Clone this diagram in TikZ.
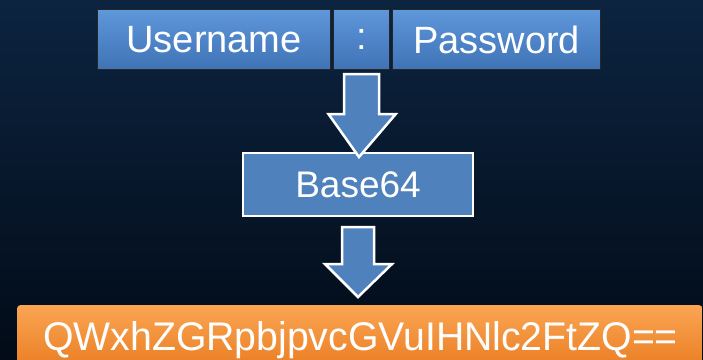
\documentclass[tikz,border=0pt]{standalone}
\usepackage{fontspec}
\setmainfont{Liberation Sans}
\usetikzlibrary{calc}
\definecolor{bgtop}{HTML}{0C2440}
\definecolor{bgbot}{HTML}{020B17}
\definecolor{boxtop}{HTML}{5E97DA}
\definecolor{boxbot}{HTML}{3F73B6}
\definecolor{flatblue}{HTML}{4F81BD}
\definecolor{ortop}{HTML}{FBA553}
\definecolor{orbot}{HTML}{E97D22}
\tikzset{
  keybox/.style={draw=black!85, line width=1.2pt, top color=boxtop, bottom color=boxbot,
    text=white, font=\fontsize{38}{38}\selectfont, inner sep=0pt, anchor=north west},
  codebox/.style={draw=white, line width=2pt, fill=flatblue, text=white,
    font=\fontsize{37}{37}\selectfont, inner sep=0pt, anchor=north west},
  resultbox/.style={top color=ortop, bottom color=orbot, rounded corners=3pt,
    inner sep=0pt, anchor=north west},
  resulttext/.style={text=white, font=\fontsize{40}{40}\selectfont, inner sep=0pt, anchor=base},
  blockarrow/.style={fill=flatblue, draw=white, line width=2.5pt, line join=miter}
}
\begin{document}
\begin{tikzpicture}[x=1pt,y=1pt]
  % background
  \shade[top color=bgtop, bottom color=bgbot] (0,0) rectangle (703,-359);
  \useasboundingbox (0,0) rectangle (703,-359);

  % input row
  \node[keybox, minimum width=233pt, minimum height=60pt] (user) at (97,-9) {Username};
  \node[keybox, minimum width=56pt, minimum height=60pt] (colon) at (333,-9) {:};
  \node[keybox, minimum width=208pt, minimum height=60pt] (pass) at (392,-9) {Password};

  % encoder
  \node[codebox, minimum width=230pt, minimum height=63pt] (enc) at (242,-152) {Base64};

  % result bar, running off the bottom edge
  \node[resultbox, minimum width=685pt, minimum height=64pt] (out) at (17,-305) {};
  \node[resulttext] (outtext) at (360.5,-350)
    {\scalebox{0.98}[1]{QWxhZGRpbjpvcGVuIHNlc2FtZQ==}};

  % arrow from input row to encoder
  \draw[blockarrow]
    ($(colon.south)+(-17.5,-4)$) -- ($(colon.south)+(17.5,-4)$) --
    ($(colon.south)+(17.5,-44)$) -- ($(colon.south)+(34,-44)$) --
    ($(enc.north)+(1,-5)$ |- {$(enc.north)+(0,5)$}) --
    ($(colon.south)+(-33,-44)$) -- ($(colon.south)+(-17.5,-44)$) -- cycle;

  % arrow from encoder to result
  \draw[blockarrow]
    ($(enc.south)+(-16,-10)$) -- ($(enc.south)+(16,-10)$) --
    ($(enc.south)+(16,-47)$) -- ($(enc.south)+(34,-47)$) --
    ($(enc.south)+(0,-80)$) --
    ($(enc.south)+(-33,-47)$) -- ($(enc.south)+(-16,-47)$) -- cycle;
\end{tikzpicture}
\end{document}
